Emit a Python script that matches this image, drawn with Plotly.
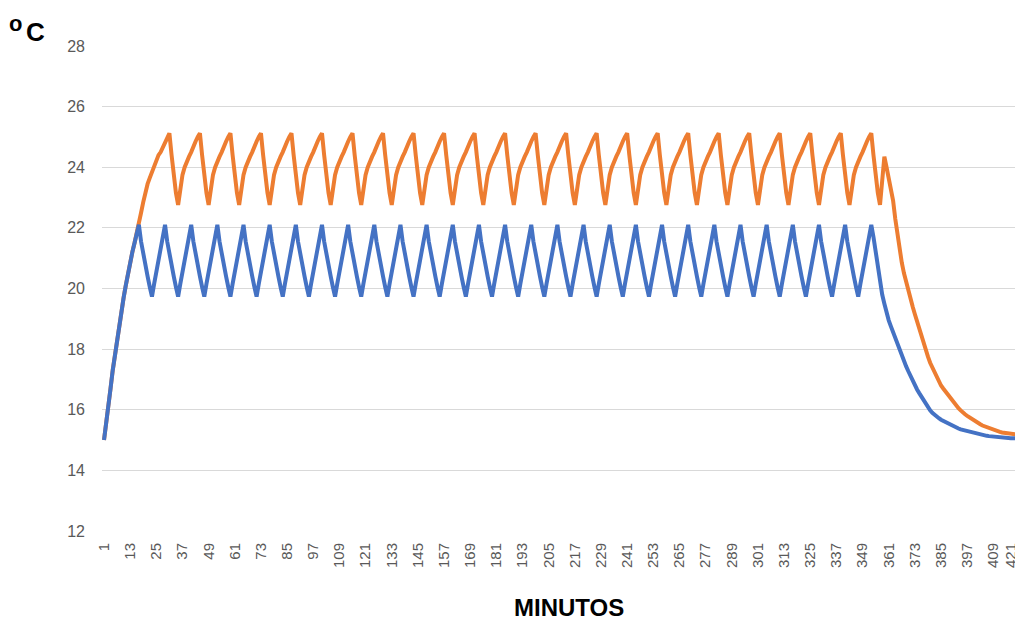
import plotly.graph_objects as go

# ---------------- data ----------------
minutes = list(range(1, 424))

x_tick_values = [1, 13, 25, 37, 49, 61, 73, 85, 97, 109, 121, 133, 145, 157, 169,
                 181, 193, 205, 217, 229, 241, 253, 265, 277, 289, 301, 313, 325,
                 337, 349, 361, 373, 385, 397, 409, 421]
x_tick_labels = [str(v) for v in x_tick_values]
y_tick_values = [12, 14, 16, 18, 20, 22, 24, 26, 28]

blue_temp = [
    15.0, 15.5, 16.1, 16.7, 17.3, 17.8, 18.3, 18.9, 19.3, 19.7, 20.1, 20.5, 20.8, 21.2, 21.5, 21.8,  # 1-16
    22.1, 21.55, 21.1, 20.75, 20.4, 20.05, 19.73, 20.15, 20.55, 20.95, 21.35, 21.75,  # 17
    22.1, 21.55, 21.1, 20.75, 20.4, 20.05, 19.73, 20.15, 20.55, 20.95, 21.35, 21.75,  # 29
    22.1, 21.55, 21.1, 20.75, 20.4, 20.05, 19.73, 20.15, 20.55, 20.95, 21.35, 21.75,  # 41
    22.1, 21.55, 21.1, 20.75, 20.4, 20.05, 19.73, 20.15, 20.55, 20.95, 21.35, 21.75,  # 53
    22.1, 21.55, 21.1, 20.75, 20.4, 20.05, 19.73, 20.15, 20.55, 20.95, 21.35, 21.75,  # 65
    22.1, 21.55, 21.1, 20.75, 20.4, 20.05, 19.73, 20.15, 20.55, 20.95, 21.35, 21.75,  # 77
    22.1, 21.55, 21.1, 20.75, 20.4, 20.05, 19.73, 20.15, 20.55, 20.95, 21.35, 21.75,  # 89
    22.1, 21.55, 21.1, 20.75, 20.4, 20.05, 19.73, 20.15, 20.55, 20.95, 21.35, 21.75,  # 101
    22.1, 21.55, 21.1, 20.75, 20.4, 20.05, 19.73, 20.15, 20.55, 20.95, 21.35, 21.75,  # 113
    22.1, 21.55, 21.1, 20.75, 20.4, 20.05, 19.73, 20.15, 20.55, 20.95, 21.35, 21.75,  # 125
    22.1, 21.55, 21.1, 20.75, 20.4, 20.05, 19.73, 20.15, 20.55, 20.95, 21.35, 21.75,  # 137
    22.1, 21.55, 21.1, 20.75, 20.4, 20.05, 19.73, 20.15, 20.55, 20.95, 21.35, 21.75,  # 149
    22.1, 21.55, 21.1, 20.75, 20.4, 20.05, 19.73, 20.15, 20.55, 20.95, 21.35, 21.75,  # 161
    22.1, 21.55, 21.1, 20.75, 20.4, 20.05, 19.73, 20.15, 20.55, 20.95, 21.35, 21.75,  # 173
    22.1, 21.55, 21.1, 20.75, 20.4, 20.05, 19.73, 20.15, 20.55, 20.95, 21.35, 21.75,  # 185
    22.1, 21.55, 21.1, 20.75, 20.4, 20.05, 19.73, 20.15, 20.55, 20.95, 21.35, 21.75,  # 197
    22.1, 21.55, 21.1, 20.75, 20.4, 20.05, 19.73, 20.15, 20.55, 20.95, 21.35, 21.75,  # 209
    22.1, 21.55, 21.1, 20.75, 20.4, 20.05, 19.73, 20.15, 20.55, 20.95, 21.35, 21.75,  # 221
    22.1, 21.55, 21.1, 20.75, 20.4, 20.05, 19.73, 20.15, 20.55, 20.95, 21.35, 21.75,  # 233
    22.1, 21.55, 21.1, 20.75, 20.4, 20.05, 19.73, 20.15, 20.55, 20.95, 21.35, 21.75,  # 245
    22.1, 21.55, 21.1, 20.75, 20.4, 20.05, 19.73, 20.15, 20.55, 20.95, 21.35, 21.75,  # 257
    22.1, 21.55, 21.1, 20.75, 20.4, 20.05, 19.73, 20.15, 20.55, 20.95, 21.35, 21.75,  # 269
    22.1, 21.55, 21.1, 20.75, 20.4, 20.05, 19.73, 20.15, 20.55, 20.95, 21.35, 21.75,  # 281
    22.1, 21.55, 21.1, 20.75, 20.4, 20.05, 19.73, 20.15, 20.55, 20.95, 21.35, 21.75,  # 293
    22.1, 21.55, 21.1, 20.75, 20.4, 20.05, 19.73, 20.15, 20.55, 20.95, 21.35, 21.75,  # 305
    22.1, 21.55, 21.1, 20.75, 20.4, 20.05, 19.73, 20.15, 20.55, 20.95, 21.35, 21.75,  # 317
    22.1, 21.55, 21.1, 20.75, 20.4, 20.05, 19.73, 20.15, 20.55, 20.95, 21.35, 21.75,  # 329
    22.1, 21.55, 21.1, 20.75, 20.4, 20.05, 19.73, 20.15, 20.55, 20.95, 21.35, 21.75,  # 341
    22.1,                                                                             # 353
    21.7, 21.2, 20.8, 20.2, 19.8, 19.5, 19.2, 18.95, 18.75, 18.55,                   # 354
    18.35, 18.15, 17.95, 17.78, 17.6, 17.43, 17.27, 17.1, 16.95, 16.8,               # 364
    16.67, 16.55, 16.43, 16.3, 16.18, 16.08, 15.98, 15.9, 15.83, 15.77,              # 374
    15.72, 15.67, 15.63, 15.6, 15.56, 15.52, 15.48, 15.44, 15.41, 15.38,             # 384
    15.35, 15.33, 15.31, 15.29, 15.27, 15.25, 15.23, 15.21, 15.19, 15.17,            # 394
    15.16, 15.15, 15.14, 15.13, 15.12, 15.11, 15.1, 15.09, 15.09, 15.08,             # 404
    15.08, 15.07, 15.07, 15.06, 15.06, 15.05, 15.05, 15.05, 15.04, 15.04,            # 414-423
]

orange_temp = [
    15.0, 15.5, 16.1, 16.7, 17.3, 17.8, 18.3, 18.9, 19.3, 19.7, 20.1, 20.5, 20.8, 21.2, 21.5, 21.8,  # 1-16
    22.15, 22.5, 22.85, 23.2, 23.45, 23.65, 23.85, 24.05, 24.25, 24.4, 24.5, 24.65, 24.8, 24.95,    # 17-30
    25.12, 24.4, 23.7, 23.15, 22.76, 23.3, 23.75, 24.0, 24.2, 24.35, 24.5, 24.7, 24.85, 25.0,  # 31
    25.12, 24.4, 23.7, 23.15, 22.76, 23.3, 23.75, 24.0, 24.2, 24.35, 24.5, 24.7, 24.85, 25.0,  # 45
    25.12, 24.4, 23.7, 23.15, 22.76, 23.3, 23.75, 24.0, 24.2, 24.35, 24.5, 24.7, 24.85, 25.0,  # 59
    25.12, 24.4, 23.7, 23.15, 22.76, 23.3, 23.75, 24.0, 24.2, 24.35, 24.5, 24.7, 24.85, 25.0,  # 73
    25.12, 24.4, 23.7, 23.15, 22.76, 23.3, 23.75, 24.0, 24.2, 24.35, 24.5, 24.7, 24.85, 25.0,  # 87
    25.12, 24.4, 23.7, 23.15, 22.76, 23.3, 23.75, 24.0, 24.2, 24.35, 24.5, 24.7, 24.85, 25.0,  # 101
    25.12, 24.4, 23.7, 23.15, 22.76, 23.3, 23.75, 24.0, 24.2, 24.35, 24.5, 24.7, 24.85, 25.0,  # 115
    25.12, 24.4, 23.7, 23.15, 22.76, 23.3, 23.75, 24.0, 24.2, 24.35, 24.5, 24.7, 24.85, 25.0,  # 129
    25.12, 24.4, 23.7, 23.15, 22.76, 23.3, 23.75, 24.0, 24.2, 24.35, 24.5, 24.7, 24.85, 25.0,  # 143
    25.12, 24.4, 23.7, 23.15, 22.76, 23.3, 23.75, 24.0, 24.2, 24.35, 24.5, 24.7, 24.85, 25.0,  # 157
    25.12, 24.4, 23.7, 23.15, 22.76, 23.3, 23.75, 24.0, 24.2, 24.35, 24.5, 24.7, 24.85, 25.0,  # 171
    25.12, 24.4, 23.7, 23.15, 22.76, 23.3, 23.75, 24.0, 24.2, 24.35, 24.5, 24.7, 24.85, 25.0,  # 185
    25.12, 24.4, 23.7, 23.15, 22.76, 23.3, 23.75, 24.0, 24.2, 24.35, 24.5, 24.7, 24.85, 25.0,  # 199
    25.12, 24.4, 23.7, 23.15, 22.76, 23.3, 23.75, 24.0, 24.2, 24.35, 24.5, 24.7, 24.85, 25.0,  # 213
    25.12, 24.4, 23.7, 23.15, 22.76, 23.3, 23.75, 24.0, 24.2, 24.35, 24.5, 24.7, 24.85, 25.0,  # 227
    25.12, 24.4, 23.7, 23.15, 22.76, 23.3, 23.75, 24.0, 24.2, 24.35, 24.5, 24.7, 24.85, 25.0,  # 241
    25.12, 24.4, 23.7, 23.15, 22.76, 23.3, 23.75, 24.0, 24.2, 24.35, 24.5, 24.7, 24.85, 25.0,  # 255
    25.12, 24.4, 23.7, 23.15, 22.76, 23.3, 23.75, 24.0, 24.2, 24.35, 24.5, 24.7, 24.85, 25.0,  # 269
    25.12, 24.4, 23.7, 23.15, 22.76, 23.3, 23.75, 24.0, 24.2, 24.35, 24.5, 24.7, 24.85, 25.0,  # 283
    25.12, 24.4, 23.7, 23.15, 22.76, 23.3, 23.75, 24.0, 24.2, 24.35, 24.5, 24.7, 24.85, 25.0,  # 297
    25.12, 24.4, 23.7, 23.15, 22.76, 23.3, 23.75, 24.0, 24.2, 24.35, 24.5, 24.7, 24.85, 25.0,  # 311
    25.12, 24.4, 23.7, 23.15, 22.76, 23.3, 23.75, 24.0, 24.2, 24.35, 24.5, 24.7, 24.85, 25.0,  # 325
    25.12, 24.4, 23.7, 23.15, 22.76, 23.3, 23.75, 24.0, 24.2, 24.35, 24.5, 24.7, 24.85, 25.0,  # 339
    25.12, 24.4, 23.7, 23.15, 22.76, 23.6, 24.35,                                    # 353-359
    24.0, 23.65, 23.25, 22.9, 22.3, 21.75, 21.25, 20.85, 20.5, 20.2,                 # 360
    19.9, 19.65, 19.4, 19.15, 18.9, 18.65, 18.4, 18.15, 17.95, 17.75,                # 370
    17.55, 17.4, 17.2, 17.05, 16.95, 16.8, 16.7, 16.6, 16.5, 16.4,                   # 380
    16.3, 16.2, 16.15, 16.05, 15.98, 15.9, 15.85, 15.8, 15.75, 15.7,                 # 390
    15.64, 15.6, 15.56, 15.52, 15.48, 15.45, 15.42, 15.39, 15.36, 15.33,             # 400
    15.31, 15.29, 15.27, 15.25, 15.24, 15.23, 15.22, 15.21, 15.2, 15.19,             # 410
    15.18, 15.17, 15.16, 15.15,                                                      # 420-423
]

if len(blue_temp) != len(minutes) or len(orange_temp) != len(minutes):
    raise ValueError(f"length mismatch: blue={len(blue_temp)} orange={len(orange_temp)}")

# ---------------- figure ----------------
BLUE = "#4472C4"
ORANGE = "#ED7D31"
GRID = "#D9D9D9"
LABEL = "#595959"
FONT = "Liberation Sans, Arial, sans-serif"

fig = go.Figure()
fig.add_trace(go.Scatter(x=minutes, y=orange_temp, mode="lines",
                         line=dict(color=ORANGE, width=4), showlegend=False,
                         hoverinfo="x+y"))
fig.add_trace(go.Scatter(x=minutes, y=blue_temp, mode="lines",
                         line=dict(color=BLUE, width=4), showlegend=False,
                         hoverinfo="x+y"))

# The last category label sits at the very right edge; like the reference it is
# pulled slightly inward (drawn as a rotated text at the same category value).
axis_ticks = x_tick_values[:-1]
axis_labels = x_tick_labels[:-1]
last_tick = x_tick_values[-1]
last_label = x_tick_labels[-1]

# the page body has an 8px default margin, so the figure is 8px smaller
fig.update_layout(
    width=1015, height=612,
    margin=dict(l=94, r=0, t=38, b=89, autoexpand=False),
    paper_bgcolor="white", plot_bgcolor="white",
    font=dict(family=FONT, color=LABEL),
    xaxis=dict(
        range=[0.08, 422.6], automargin=False,
        tickmode="array", tickvals=axis_ticks, ticktext=axis_labels,
        tickangle=-90, tickfont=dict(size=15, color=LABEL, family=FONT),
        showgrid=False, zeroline=False, showline=False, ticks="",
        ticklabelstandoff=8, ticklabeloverflow="allow",
    ),
    yaxis=dict(
        range=[12, 28], automargin=False, tickmode="array", tickvals=y_tick_values,
        tickfont=dict(size=16, color=LABEL, family=FONT),
        showgrid=True, gridcolor=GRID, gridwidth=1.3,
        zeroline=False, showline=False, ticks="",
        ticklabelstandoff=16,
    ),
    annotations=[
        dict(text=last_label, xref="x", yref="paper", x=last_tick, y=0,
             xanchor="center", yanchor="top", yshift=-10, xshift=-9,
             textangle=-90, showarrow=False,
             font=dict(size=15, color=LABEL, family=FONT)),
        dict(text="<b>MINUTOS</b>", xref="paper", yref="paper",
             x=0.507, y=-0.157, xanchor="center", yanchor="middle",
             showarrow=False, font=dict(size=24, color="black", family=FONT)),
        dict(text="<b>o</b>", xref="paper", yref="paper",
             x=-0.0934, y=1.047, xanchor="center", yanchor="middle",
             showarrow=False, font=dict(size=22, color="black", family=FONT)),
        dict(text="<b>C</b>", xref="paper", yref="paper",
             x=-0.0727, y=1.029, xanchor="center", yanchor="middle",
             showarrow=False, font=dict(size=26, color="black", family=FONT)),
    ],
)

fig.write_html("out.html")
